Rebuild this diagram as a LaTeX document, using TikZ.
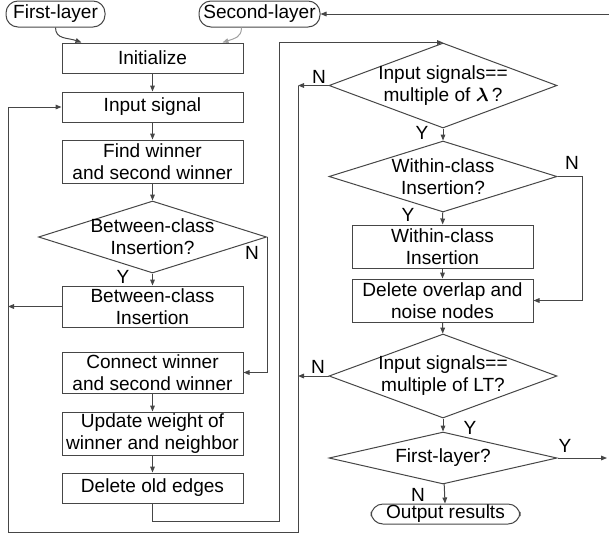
\documentclass[tikz,border=0pt]{standalone}
\usepackage{fontspec}
\setmainfont{Liberation Sans}
\usepackage{amsmath, amssymb}
\usetikzlibrary{shapes.geometric, arrows.meta, calc}
\tikzset{every picture/.style={line width=0.75pt}}
\definecolor{linegray}{RGB}{70,70,70}
\definecolor{softgray}{RGB}{160,160,160}
\newcommand{\flowfont}{\fontsize{14.3}{16.5}\selectfont}
\tikzset{
  stepbox/.style={draw=linegray, rectangle, minimum width=135.75pt, inner sep=0pt, align=center, font=\flowfont},
  decision/.style={draw=linegray, diamond, minimum width=171pt, inner sep=0pt},
  terminal/.style={draw=linegray, rectangle, rounded corners=9pt, inner sep=0pt, font=\flowfont},
  flowarrow/.style={draw=linegray, -{Triangle[length=4.5pt,width=3.5pt]}},
  yn/.style={inner sep=0pt, font=\flowfont},
}

\begin{document}
\begin{tikzpicture}[x=0.75pt,y=0.75pt,yscale=-1,xscale=1]
\path [use as bounding box] (0,0) rectangle (609,536);

%Shape: Terminals
\node (first) [terminal, minimum width=74.25pt, minimum height=19.5pt] at (55.5,14) {First-layer};
\node (second) [terminal, minimum width=90.75pt, minimum height=19.5pt] at (259.5,14) {Second-layer};
\node (output) [terminal, minimum width=111.75pt, minimum height=15pt] at (445.5,514) {Output results};

%Shape: Left column
\node (init) [stepbox, minimum height=22.5pt] at (152.5,58) {Initialize};
\node (input) [stepbox, minimum height=22.5pt] at (152.5,107) {Input signal};
\node (find) [stepbox, minimum height=32.25pt] at (152.5,161.5) {Find winner\\and second winner};
\node (bcq) [decision, minimum height=54pt, label={[font=\flowfont, align=center]center:Between-class\\Insertion?}] at (152.5,237) {};
\node (bcins) [stepbox, minimum height=30.75pt] at (152.5,306.5) {Between-class\\Insertion};
\node (connect) [stepbox, minimum height=30.75pt] at (152.5,372.5) {Connect winner\\and second winner};
\node (update) [stepbox, minimum height=32.25pt] at (152.5,433.5) {Update weight of\\winner and neighbor};
\node (delold) [stepbox, minimum height=22.5pt] at (152.5,488) {Delete old edges};

%Shape: Right column
\node (lamq) [decision, minimum height=63.75pt, label={[font=\flowfont, align=center]center:Input signals==\\multiple of $\boldsymbol{\lambda}$\,?}] at (443,85.5) {};
\node (wcq) [decision, minimum height=53.25pt, label={[font=\flowfont, align=center]center:Within-class\\Insertion?}] at (443,176.5) {};
\node (wcins) [stepbox, minimum height=32.25pt] at (442.5,246.5) {Within-class\\Insertion};
\node (delov) [stepbox, minimum height=32.25pt] at (442.5,300.5) {Delete overlap and\\noise nodes};
\node (ltq) [decision, minimum height=63pt, label={[font=\flowfont, align=center]center:Input signals==\\multiple of LT?}] at (443,376) {};
\node (flq) [decision, minimum height=39pt, label={[font=\flowfont]center:First-layer?}] at (443,458) {};

% Text Node
\node (bcY) [yn] at (123,277) {Y};
\node (bcN) [yn] at (252,253) {N};
\node (lamN) [yn] at (319,77) {N};
\node (lamY) [yn] at (422,133) {Y};
\node (wcN) [yn] at (572,163) {N};
\node (wcY) [yn] at (408,215) {Y};
\node (ltN) [yn] at (318,367) {N};
\node (ltY) [yn] at (470,428) {Y};
\node (flY) [yn] at (565,446) {Y};
\node (flN) [yn] at (418,495) {N};

% rails of the loops
\coordinate (leftrail) at (8,532);
\coordinate (midrail) at (279,521);
\coordinate (rightrail) at (298,532);
\coordinate (topright) at (609,14);
\coordinate (flout) at (607,458);

%Straight Lines
\draw [flowarrow] (first.south) .. controls +(0,12) and +(-14,-5) .. ($(init.north west)+(20,0)$);
\draw [flowarrow, draw=softgray] ($(second.south)+(-18,0)$) .. controls +(0,10) and +(12,-4) .. ($(init.north east)+(-21,0)$);
\draw [flowarrow] (topright) -- (second.east);
\draw [flowarrow] (init) -- (input);
\draw [flowarrow] (input) -- (find);
\draw [flowarrow] (find) -- (bcq);
\draw [flowarrow] (bcq) -- (bcins);
\draw [flowarrow] (bcq.east) |- (connect.east);
\draw [flowarrow] (bcins.west) -- (bcins.west -| leftrail);
\draw [flowarrow] (connect) -- (update);
\draw [flowarrow] (update) -- (delold);
\draw [flowarrow] (delold.south) |- (midrail) |- (lamq.north);
\draw [flowarrow] (lamq.west) -- (lamq.west -| rightrail);
\draw [flowarrow] (lamq.west -| rightrail) -- (rightrail) -- (leftrail) |- (input.west);
\draw [flowarrow] (lamq) -- (wcq);
\draw [flowarrow] (wcq) -- (wcins);
\draw [flowarrow] (wcq.east) -- ++(25,0) |- (delov.east);
\draw [flowarrow] (wcins) -- (delov);
\draw [flowarrow] (delov) -- (ltq);
\draw [flowarrow] (ltq.west) -- (ltq.west -| rightrail);
\draw [flowarrow] (ltq) -- (flq);
\draw [flowarrow] (flq.east) -- (flout);
\draw [flowarrow] (flq) -- (output);

\end{tikzpicture}
\end{document}
